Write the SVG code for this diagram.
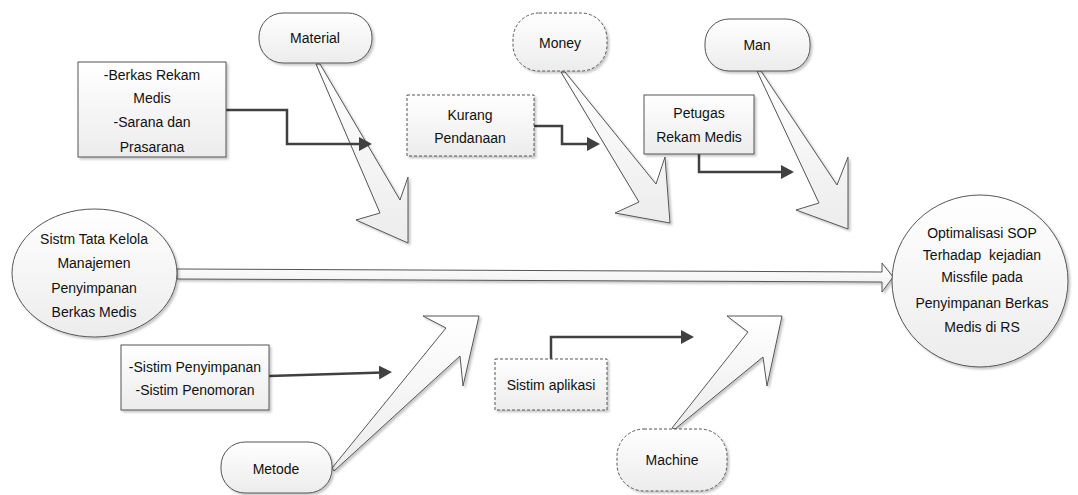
<svg xmlns="http://www.w3.org/2000/svg" width="1078" height="495" viewBox="0 0 1078 495">
<defs>
<linearGradient id="g" x1="0" y1="0" x2="0" y2="1">
<stop offset="0" stop-color="#ffffff"/>
<stop offset="1" stop-color="#ececec"/>
</linearGradient>
<filter id="sh" x="-20%" y="-20%" width="140%" height="140%">
<feDropShadow dx="2" dy="2" stdDeviation="1.2" flood-color="#000" flood-opacity="0.22"/>
</filter>
<marker id="ah" markerUnits="userSpaceOnUse" markerWidth="16" markerHeight="16" refX="4" refY="7" orient="auto">
<path d="M0,0 L13,7 L0,14 z" fill="#404040"/>
</marker>
<style>
.sh{fill:url(#g);stroke:#555;stroke-width:1;filter:url(#sh)}
.dash{stroke-dasharray:3,2}
.big{fill:url(#g);stroke:#555;stroke-width:1;stroke-linejoin:miter;filter:url(#sh)}
.con{fill:none;stroke:#404040;stroke-width:2.5;marker-end:url(#ah)}
text{font-family:"Liberation Sans",Arial,sans-serif;font-size:14px;fill:#111;text-anchor:middle;dominant-baseline:central}
</style>
</defs>
<g id="fishbone-arrows">
<polygon class="big" points="316,64 380,213 356,220 408,243 408,177 400,200 320,64"/>
<polygon class="big" points="561,72 639,202 615,213 670,223 665,157 656,184 565,72"/>
<polygon class="big" points="757,71 819,203 796,210 848,229 848,157 837,185 761,71"/>
<polygon class="big" points="332,468 446,328 423,316 479,316 463,386 460,356 334,471"/>
<polygon class="big" points="672,428 748,332 727,316 782,316 767,386 763,357 675,429"/>
<polygon class="big" points="177,269 882,272 882,263 893,277 882,292 882,282 177,279"/>
</g>
<g id="connectors">
<path class="con" d="M226,110 H287 V144 H363"/>
<path class="con" d="M534,126 H562 V144 H591"/>
<path class="con" d="M699,154 V172 H785"/>
<path class="con" d="M269,376 L383,372.4"/>
<path class="con" d="M551,359 V337 H685"/>
</g>
<g id="material">
<rect class="sh" x="259" y="13" width="113" height="50" rx="24"/>
<text x="315" y="38">Material</text>
</g>
<g id="money">
<rect class="sh dash" x="513" y="13" width="94" height="58" rx="26"/>
<text x="560" y="43">Money</text>
</g>
<g id="man">
<rect class="sh" x="705" y="19" width="105" height="52" rx="24"/>
<text x="757" y="45">Man</text>
</g>
<g id="berkas">
<rect class="sh" x="78" y="62" width="148" height="95"/>
<text x="152" y="75">-Berkas Rekam</text>
<text x="152" y="98">Medis</text>
<text x="152" y="122">-Sarana dan</text>
<text x="152" y="147">Prasarana</text>
</g>
<g id="kurang">
<rect class="sh dash" x="407" y="95" width="127" height="61"/>
<text x="470" y="115">Kurang</text>
<text x="470" y="138">Pendanaan</text>
</g>
<g id="petugas">
<rect class="sh" x="644" y="95" width="110" height="59"/>
<text x="699" y="113">Petugas</text>
<text x="699" y="137">Rekam Medis</text>
</g>
<g id="sistem-tata-kelola">
<ellipse class="sh" cx="94.5" cy="273" rx="82.5" ry="64"/>
<text x="94" y="239">Sistm Tata Kelola</text>
<text x="94" y="263">Manajemen</text>
<text x="94" y="288">Penyimpanan</text>
<text x="94" y="312">Berkas Medis</text>
</g>
<g id="optimalisasi">
<ellipse class="sh" cx="980" cy="281" rx="88" ry="86"/>
<text x="982" y="233">Optimalisasi SOP</text>
<text x="982" y="255" xml:space="preserve">Terhadap  kejadian</text>
<text x="982" y="277">Missfile pada</text>
<text x="982" y="303">Penyimpanan Berkas</text>
<text x="982" y="327">Medis di RS</text>
</g>
<g id="sistim">
<rect class="sh" x="121" y="345" width="148" height="65"/>
<text x="195" y="367">-Sistim Penyimpanan</text>
<text x="195" y="390">-Sistim Penomoran</text>
</g>
<g id="sistim-aplikasi">
<rect class="sh dash" x="495" y="359" width="112" height="51"/>
<text x="551" y="385">Sistim aplikasi</text>
</g>
<g id="metode">
<rect class="sh" x="221" y="442" width="111" height="51" rx="24"/>
<text x="276" y="469">Metode</text>
</g>
<g id="machine">
<rect class="sh dash" x="617" y="429" width="110" height="62" rx="27"/>
<text x="672" y="460">Machine</text>
</g>
</svg>
